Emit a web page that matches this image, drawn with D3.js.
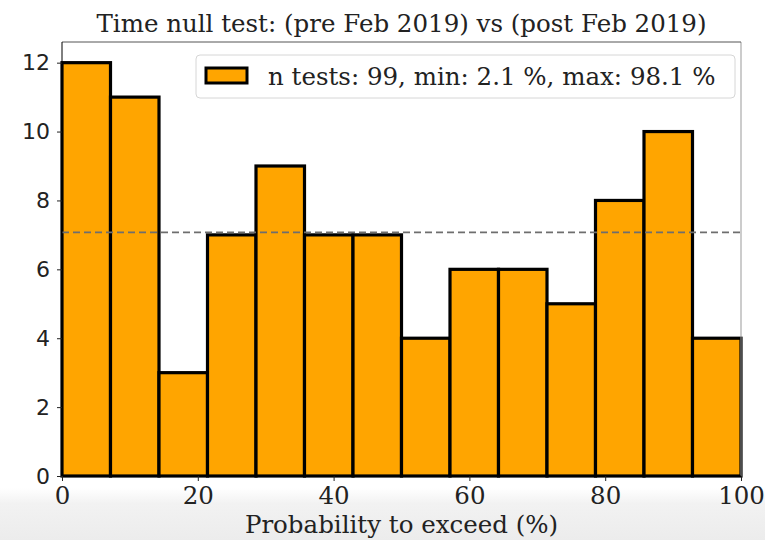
<!DOCTYPE html>
<html>
<head>
<meta charset="utf-8">
<script src="https://cdn.jsdelivr.net/npm/d3@7"></script>
<style>
  html, body { margin: 0; padding: 0; background: #ffffff; }
  svg { display: block; }
</style>
</head>
<body>
<svg id="chart" width="765" height="540"></svg>
<script>
// Histogram of probability-to-exceed values over 14 equal bins
const binEdgesMin = 0;
const binEdgesMax = 100;
const binCounts = [12, 11, 3, 7, 9, 7, 7, 4, 6, 6, 5, 8, 10, 4];
const xTicks = [0, 20, 40, 60, 80, 100];
const yTicks = [0, 2, 4, 6, 8, 10, 12];
const titleText = "Time null test: (pre Feb 2019) vs (post Feb 2019)";
const xLabelText = "Probability to exceed (%)";
const legendText = "n tests: 99, min: 2.1 %, max: 98.1 %";

const nTests = d3.sum(binCounts);
const meanCount = nTests / binCounts.length;

const svg = d3.select("#chart");
const W = 765, H = 540;
const plot = { left: 62, right: 741, top: 42, bottom: 476 };
const serif = "'DejaVu Serif', serif";
const sans = "'DejaVu Sans', sans-serif";

// soft grey band along the lower edge
const defs = svg.append("defs");
const grad = defs.append("linearGradient").attr("id", "bottomFade")
  .attr("x1", 0).attr("y1", 0).attr("x2", 0).attr("y2", 1);
grad.append("stop").attr("offset", "0%").attr("stop-color", "#ffffff");
grad.append("stop").attr("offset", "30%").attr("stop-color", "#f2f2f2");
grad.append("stop").attr("offset", "100%").attr("stop-color", "#ececec");
svg.append("rect").attr("x", 0).attr("y", 488).attr("width", W).attr("height", H - 488)
  .attr("fill", "url(#bottomFade)");

const x = d3.scaleLinear().domain([binEdgesMin, binEdgesMax]).range([plot.left, plot.right]);
const yMax = d3.max(binCounts) * 1.05;
const y = d3.scaleLinear().domain([0, yMax]).range([plot.bottom, plot.top]);

const binWidth = (binEdgesMax - binEdgesMin) / binCounts.length;
const bins = binCounts.map((c, i) => ({
  x0: binEdgesMin + i * binWidth,
  x1: binEdgesMin + (i + 1) * binWidth,
  count: c
}));

// bars
svg.append("g").selectAll("rect").data(bins).join("rect")
  .attr("x", d => x(d.x0))
  .attr("y", d => y(d.count))
  .attr("width", d => x(d.x1) - x(d.x0))
  .attr("height", d => y(0) - y(d.count))
  .attr("fill", "#ffa500")
  .attr("stroke", "#000000")
  .attr("stroke-width", 3.2);

// mean-count reference line
svg.append("line")
  .attr("x1", x(binEdgesMin)).attr("x2", x(binEdgesMax))
  .attr("y1", y(meanCount)).attr("y2", y(meanCount))
  .attr("stroke", "#6e6e6e").attr("stroke-width", 1.8)
  .attr("stroke-dasharray", "7,4");

// frame
const frame = svg.append("g").attr("fill", "none").attr("stroke-width", 1);
frame.append("line").attr("x1", x(binEdgesMax)).attr("x2", x(binEdgesMax)).attr("y1", y(0)).attr("y2", y(yMax)).attr("stroke", "#999");
frame.append("line").attr("x1", x(binEdgesMin)).attr("x2", x(binEdgesMax)).attr("y1", y(yMax)).attr("y2", y(yMax)).attr("stroke", "#555");
frame.append("line").attr("x1", x(binEdgesMin)).attr("x2", x(binEdgesMin)).attr("y1", y(0)).attr("y2", y(yMax)).attr("stroke", "#000");
frame.append("line").attr("x1", x(binEdgesMin)).attr("x2", x(binEdgesMax)).attr("y1", y(0)).attr("y2", y(0)).attr("stroke", "#000");

// x axis
const xAxis = svg.append("g").attr("transform", `translate(0,${y(0)})`)
  .call(d3.axisBottom(x).tickValues(xTicks).tickSize(5).tickPadding(5).tickFormat(d3.format("d")));
xAxis.select(".domain").remove();
xAxis.selectAll("text").attr("font-family", serif).attr("font-size", 24.5).attr("fill", "#222").attr("dy", "0.72em");
xAxis.selectAll("line").attr("stroke", "#222");

// y axis
const yAxis = svg.append("g").attr("transform", `translate(${x(binEdgesMin)},0)`)
  .call(d3.axisLeft(y).tickValues(yTicks).tickSize(5).tickPadding(7).tickFormat(d3.format("d")));
yAxis.select(".domain").remove();
yAxis.selectAll("text").attr("font-family", sans).attr("font-size", 22).attr("fill", "#222");
yAxis.selectAll("line").attr("stroke", "#222");

// title
svg.append("text")
  .attr("x", (x(binEdgesMin) + x(binEdgesMax)) / 2).attr("y", 32)
  .attr("text-anchor", "middle")
  .attr("font-family", serif).attr("font-size", 24.5).attr("fill", "#222")
  .text(titleText);

// x label
svg.append("text")
  .attr("x", (x(binEdgesMin) + x(binEdgesMax)) / 2).attr("y", 533)
  .attr("text-anchor", "middle")
  .attr("font-family", serif).attr("font-size", 24.5).attr("fill", "#222")
  .text(xLabelText);

// legend
const lg = svg.append("g");
lg.append("rect").attr("x", 196).attr("y", 55).attr("width", 539).attr("height", 43)
  .attr("rx", 4).attr("fill", "#ffffff").attr("fill-opacity", 0.85)
  .attr("stroke", "#d6d6d6").attr("stroke-width", 1);
lg.append("rect").attr("x", 206).attr("y", 68).attr("width", 41).attr("height", 15)
  .attr("fill", "#ffa500").attr("stroke", "#000").attr("stroke-width", 3);
lg.append("text").attr("x", 268).attr("y", 85)
  .attr("font-family", serif).attr("font-size", 24.5).attr("fill", "#222")
  .text(legendText);
</script>
</body>
</html>
